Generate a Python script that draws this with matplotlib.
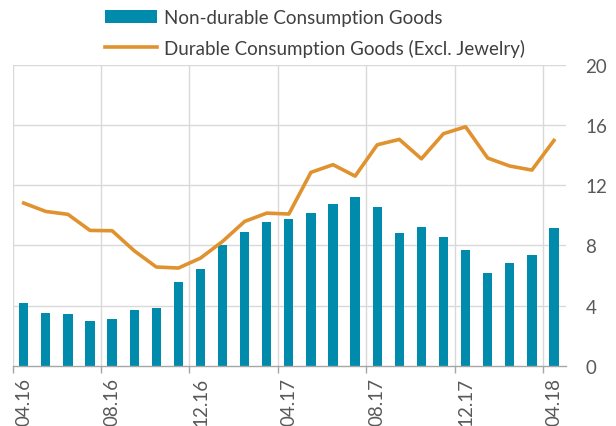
import matplotlib
matplotlib.use("Agg")
import matplotlib.pyplot as plt
import numpy as np

plt.rcParams['font.family'] = ['Lato', 'DejaVu Sans']

months = ["04.16","05.16","06.16","07.16","08.16","09.16","10.16","11.16","12.16",
          "01.17","02.17","03.17","04.17","05.17","06.17","07.17","08.17","09.17",
          "10.17","11.17","12.17","01.18","02.18","03.18","04.18"]
nondurable = [4.16, 3.48, 3.43, 2.97, 3.12, 3.72, 3.85, 5.56, 6.40, 8.00, 8.90, 9.55, 9.75,
              10.14, 10.72, 11.21, 10.52, 8.79, 9.19, 8.55, 7.66, 6.14, 6.80, 7.38, 9.13]
durable = [10.81, 10.25, 10.06, 8.99, 8.97, 7.64, 6.56, 6.49, 7.15, 8.26, 9.59, 10.14, 10.08,
           12.85, 13.36, 12.60, 14.68, 15.04, 13.75, 15.42, 15.88, 13.80, 13.27, 13.00, 14.97]
yticks = [0, 4, 8, 12, 16, 20]

bar_color = "#008BAD"
line_color = "#E0922F"
grid_color = "#D9D9D9"
text_color = "#595959"

fig = plt.figure(figsize=(6.16, 4.27), dpi=100)
ax = fig.add_axes([0.0206, 0.1412, 0.8984, 0.7048])

x = np.arange(len(months))
ax.bar(x, nondurable, width=0.42, color=bar_color, zorder=2,
       label="Non-durable Consumption Goods")
ax.plot(x, durable, color=line_color, linewidth=2.6, zorder=3,
        label="Durable Consumption Goods (Excl. Jewelry)")

ax.set_xlim(-0.5, 24.55)
ax.set_ylim(0, 20)
ax.set_yticks(yticks)
ax.yaxis.tick_right()
ax.tick_params(axis='y', length=0, labelsize=13.5, labelcolor=text_color, pad=14)

label_idx = list(range(0, len(months), 4))
ax.set_xticks(label_idx)
ax.set_xticklabels([months[i] for i in label_idx], rotation=90)
ax.tick_params(axis='x', length=0, labelsize=13.5, labelcolor=text_color, pad=8)

bounds = [i - 0.5 for i in label_idx if i - 0.5 < 24.5]
ax.set_xticks(bounds, minor=True)
ax.tick_params(axis='x', which='minor', length=5, color="#A6A6A6", width=1)
for b in bounds:
    ax.axvline(b, color=grid_color, linewidth=1, zorder=1)
for yv in yticks[1:]:
    ax.axhline(yv, color=grid_color, linewidth=1, zorder=1)

for s in ['left', 'right', 'top']:
    ax.spines[s].set_visible(False)
ax.spines['bottom'].set_color("#A6A6A6")
ax.spines['bottom'].set_linewidth(1)
ax.spines['bottom'].set_zorder(4)

handles, labels = ax.get_legend_handles_labels()
leg = fig.legend(handles[::-1], labels[::-1], loc='upper left',
                 bbox_to_anchor=(0.143, 1.015), frameon=False, fontsize=13.5,
                 handlelength=2.8, handletextpad=0.35, labelspacing=0.65,
                 labelcolor="#404040")

fig.savefig("out.png", dpi=100)
